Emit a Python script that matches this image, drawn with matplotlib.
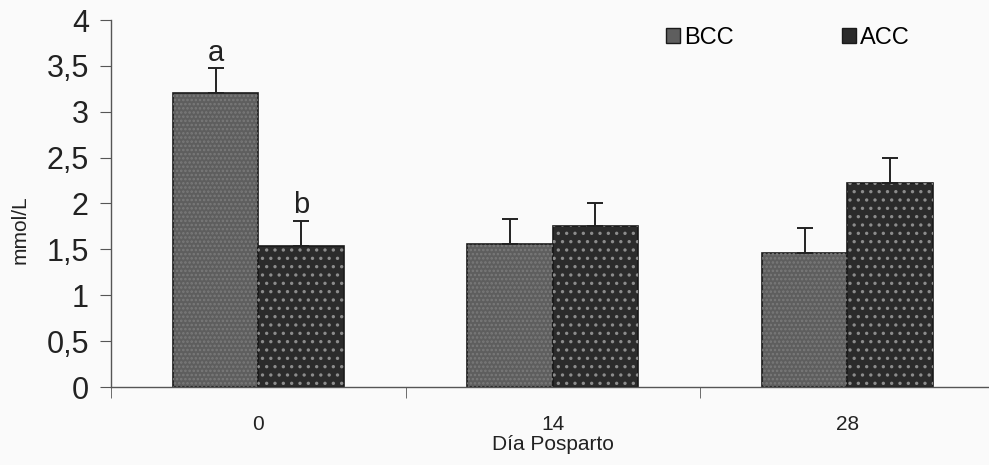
import numpy as np
import matplotlib
matplotlib.use("Agg")
import matplotlib.pyplot as plt
from matplotlib.patches import Patch

# data
days = ["0", "14", "28"]
bcc_mean = [3.20, 1.56, 1.46]
bcc_err = [0.28, 0.27, 0.27]
acc_mean = [1.54, 1.75, 2.22]
acc_err = [0.27, 0.26, 0.28]
letters_bcc = ["a", "", ""]
letters_acc = ["b", "", ""]
yticks = [0, 0.5, 1, 1.5, 2, 2.5, 3, 3.5, 4]
ytick_labels = ["0", "0,5", "1", "1,5", "2", "2,5", "3", "3,5", "4"]

plt.rcParams['font.family'] = ['Liberation Sans', 'DejaVu Sans']
plt.rcParams['hatch.linewidth'] = 1.2

fig = plt.figure(figsize=(9.89, 4.65), dpi=100)
fig.patch.set_facecolor("#fafafa")
ax = fig.add_axes([111 / 989, 78 / 465, 883.5 / 989, 367 / 465])
ax.set_facecolor("none")

x = np.arange(len(days))
w = 0.29
bcc_col = "#5e5e5e"
acc_col = "#2b2b2b"
txt_col = "#222222"

ax.bar(x - w / 2, bcc_mean, w, color=bcc_col, edgecolor="#1a1a1a", linewidth=1.2, zorder=2)
ax.bar(x + w / 2, acc_mean, w, color=acc_col, edgecolor="#1a1a1a", linewidth=1.2, zorder=2)
# dotted texture on top of the fills
ax.bar(x - w / 2, bcc_mean, w, color="none", edgecolor="#7a7a7a", hatch="....", linewidth=0, zorder=3)
ax.bar(x + w / 2, acc_mean, w, color="none", edgecolor="#8c8c8c", hatch="..", linewidth=0, zorder=3)

ax.errorbar(x - w / 2, bcc_mean, yerr=[np.zeros(3), bcc_err], fmt="none", ecolor=txt_col,
            elinewidth=1.4, capsize=6, capthick=1.4, zorder=4)
ax.errorbar(x + w / 2, acc_mean, yerr=[np.zeros(3), acc_err], fmt="none", ecolor=txt_col,
            elinewidth=1.4, capsize=6, capthick=1.4, zorder=4)

for i in range(len(days)):
    if letters_bcc[i]:
        ax.text(x[i] - w / 2, bcc_mean[i] + bcc_err[i] + 0.07, letters_bcc[i], ha="center",
                va="baseline", fontsize=21, color=txt_col)
    if letters_acc[i]:
        ax.text(x[i] + w / 2, acc_mean[i] + acc_err[i] + 0.09, letters_acc[i], ha="center",
                va="baseline", fontsize=21, color=txt_col)

ax.set_xlim(-0.5, 2.5)
ax.set_ylim(0, 4)
ax.set_yticks(yticks)
ax.set_yticklabels(ytick_labels, fontsize=22, color=txt_col)
ax.set_xticks(x)
ax.set_xticklabels(days, fontsize=15, color=txt_col)
ax.set_xticks([-0.5, 0.5, 1.5, 2.5], minor=True)
ax.tick_params(axis="x", which="major", length=0, pad=20)
ax.tick_params(axis="x", which="minor", length=8, direction="out", color="#555555")
ax.tick_params(axis="y", length=8, color="#555555", pad=8)

for s in ["top", "right"]:
    ax.spines[s].set_visible(False)
for s in ["left", "bottom"]:
    ax.spines[s].set_color("#555555")
    ax.spines[s].set_linewidth(1.0)

ax.set_ylabel("mmol/L", fontsize=15, color=txt_col)
ax.yaxis.set_label_coords(-91 / 883.5, (387 - 230) / 367)
ax.set_xlabel("Día Posparto", fontsize=15, color=txt_col)
ax.xaxis.set_label_coords(442 / 883.5, -(444 - 387) / 367)
ax.xaxis.label.set_verticalalignment("center")
ax.yaxis.label.set_verticalalignment("center")

handles = [Patch(facecolor=bcc_col, edgecolor="#1a1a1a", label="BCC"),
           Patch(facecolor=acc_col, edgecolor="#1a1a1a", label="ACC")]
fig.legend(handles=handles, loc="center left", bbox_to_anchor=(666 / 989, 1 - 38 / 465),
           ncol=2, frameon=False, fontsize=17, handlelength=0.6, handleheight=0.6,
           handletextpad=0.15, columnspacing=4.6, borderpad=0, borderaxespad=0)

fig.savefig("out.png", dpi=100, facecolor=fig.get_facecolor())
